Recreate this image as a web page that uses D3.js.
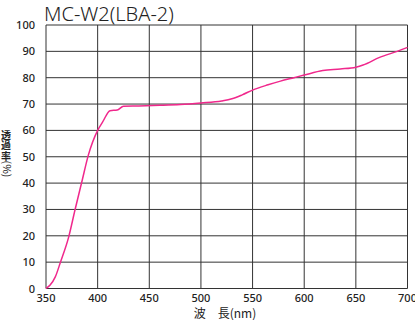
<!DOCTYPE html>
<html>
<head>
<meta charset="utf-8">
<script src="https://cdn.jsdelivr.net/npm/d3@7"></script>
<style>
  body { margin: 0; background: #fff; }
  text { font-family: "Noto Sans CJK JP", "Noto Sans", sans-serif; fill: #222; }
</style>
</head>
<body>
<svg id="chart"></svg>
<script>
var wavelengths = [350, 354, 359, 364, 372, 378, 385, 391, 400, 405, 412, 419, 425, 440, 460, 480, 500, 520, 530, 540, 550, 565, 577, 590, 600, 618, 635, 650, 657, 673, 690, 700];
var transmit   = [0, 1.3, 4.4, 10, 19.6, 29.7, 41, 50.6, 60, 63.3, 67.5, 67.7, 69.2, 69.3, 69.5, 69.8, 70.4, 71.2, 72, 73.5, 75.3, 77.3, 78.7, 80, 81, 82.7, 83.3, 84, 84.8, 87.7, 90, 91.5];
var xTicks = [350, 400, 450, 500, 550, 600, 650, 700];
var yTicks = [0, 10, 20, 30, 40, 50, 60, 70, 80, 90, 100];
var yTitleChars = ['透', '過', '率'];

var svg = d3.select('#chart').attr('width', 415).attr('height', 320);

var x = d3.scaleLinear().domain([350, 700]).range([46, 407.5]);
var y = d3.scaleLinear().domain([0, 100]).range([288.5, 25]);

// title
svg.append('text')
   .attr('x', 44).attr('y', 21)
   .style('font-size', '20px')
   .style('font-family', '"Noto Sans", sans-serif')
   .style('font-weight', 300)
   .text('MC-W2(LBA-2)');

// grid
var grid = svg.append('g').attr('stroke', '#333').attr('stroke-width', 1);
grid.selectAll('line.v').data(xTicks).enter().append('line')
    .attr('x1', d => x(d)).attr('x2', d => x(d))
    .attr('y1', y(0)).attr('y2', y(100));
grid.selectAll('line.h').data(yTicks).enter().append('line')
    .attr('x1', x(350)).attr('x2', x(700))
    .attr('y1', d => y(d)).attr('y2', d => y(d));

// tick labels
svg.selectAll('text.yl').data(yTicks).enter().append('text')
   .attr('x', 35).attr('y', d => y(d) + 4)
   .attr('text-anchor', 'end')
   .style('font-size', '11px')
   .style('font-family', '"Noto Sans", sans-serif')
   .style('font-weight', 500)
   .text(d => d);
svg.selectAll('text.xl').data(xTicks).enter().append('text')
   .attr('x', d => x(d)).attr('y', 302)
   .attr('text-anchor', 'middle')
   .style('font-size', '11px')
   .style('font-family', '"Noto Sans", sans-serif')
   .style('font-weight', 500)
   .text(d => d);

// axis titles
svg.append('text')
   .attr('x', 225).attr('y', 318)
   .attr('text-anchor', 'middle')
   .style('font-size', '12px')
   .text('波　長(nm)');
// vertical y title: stacked kanji, then (%) turned sideways
svg.selectAll('text.yt').data(yTitleChars).enter().append('text')
   .attr('x', 6).attr('y', (d, i) => 138.5 + i * 10.5)
   .attr('text-anchor', 'middle')
   .style('font-size', '10px')
   .style('font-weight', 700)
   .text(d => d);
svg.append('text')
   .attr('transform', 'translate(2.5,169) rotate(90)')
   .attr('text-anchor', 'middle')
   .style('font-size', '10.5px')
   .text('(%)');

// curve
var pts = wavelengths.map((w, i) => [w, transmit[i]]);
svg.append('path')
   .datum(pts)
   .attr('fill', 'none')
   .attr('stroke', '#f0288c')
   .attr('stroke-width', 1.5)
   .attr('d', d3.line().x(d => x(d[0])).y(d => y(d[1])).curve(d3.curveMonotoneX));
</script>
</body>
</html>
